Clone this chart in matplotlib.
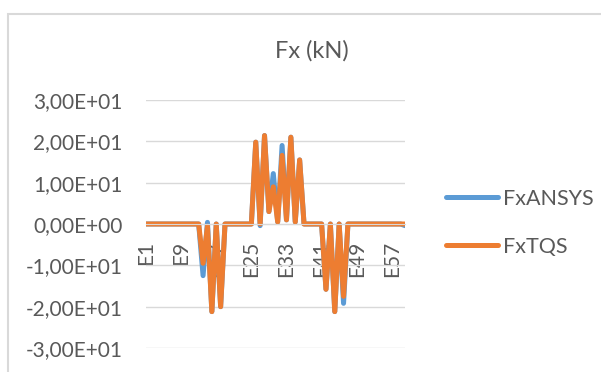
import numpy as np
import matplotlib
matplotlib.use('Agg')
import matplotlib.pyplot as plt
from matplotlib.patches import Rectangle

plt.rcParams['font.family'] = ['Lato', 'DejaVu Sans']

# Element names E1..E60 and the two force series (kN)
elements = ["E" + str(i) for i in range(1, 61)]

fx_ansys = [0, 0, 0, 0, 0, 0, 0, 0, 0, 0,
            0, 0, 0, -12.5, 0.4, -21.2, 0, -20.0, 0, 0,
            0, 0, 0, 0, 0, 19.8, -0.4, 21.4, 3.0, 12.2,
            0.5, 19.0, 1.0, 21.0, 0.5, 15.5, 0, 0, 0, 0,
            0, -15.8, 0, -21.2, 0, -19.2, 0, 0, 0, 0,
            0, 0, 0, 0, 0, 0, 0, 0, 0, -0.4]

fx_tqs = [0, 0, 0, 0, 0, 0, 0, 0, 0, 0,
          0, 0, 0, -9.5, -0.5, -21.2, 0, -20.0, 0, 0,
          0, 0, 0, 0, 0, 19.8, 0, 21.4, 3.0, 9.0,
          0.5, 16.6, 1.0, 21.0, 0.5, 15.5, 0, 0, 0, 0,
          0, -15.8, 0, -21.2, 0, -17.5, 0, 0, 0, 0,
          0, 0, 0, 0, 0, 0, 0, 0, 0, 0]

y_ticks = [30, 20, 10, 0, -10, -20, -30]
y_labels = ["3,00E+01", "2,00E+01", "1,00E+01", "0,00E+00",
            "-1,00E+01", "-2,00E+01", "-3,00E+01"]

W, H = 601, 372
fig = plt.figure(figsize=(W / 100, H / 100), dpi=100)
ax = fig.add_axes([146 / W, 1 - 348 / H, (405 - 146) / W, (348 - 100) / H])

# chart frame (cut off on the right and bottom like the screenshot)
fig.patches.append(Rectangle((7.5 / W, -0.1), 1.2, 1 - 13.5 / H + 0.1,
                             transform=fig.transFigure, fill=False,
                             edgecolor='#d9d9d9', linewidth=1.5))

x = np.arange(len(elements))
ax.plot(x, fx_ansys, color='#5B9BD5', linewidth=3.6, label='FxANSYS',
        solid_joinstyle='round', solid_capstyle='round')
ax.plot(x, fx_tqs, color='#ED7D31', linewidth=3.6, label='FxTQS',
        solid_joinstyle='round', solid_capstyle='round')

ax.set_xlim(0, len(elements) - 1)
ax.set_ylim(-30, 30)
ax.set_yticks(y_ticks)
ax.set_yticklabels(y_labels)
ax.grid(axis='y', color='#d9d9d9', linewidth=1.0)
ax.set_axisbelow(True)

# category axis sits on zero
for s in ['top', 'right', 'left']:
    ax.spines[s].set_visible(False)
ax.spines['bottom'].set_position(('data', 0))
ax.spines['bottom'].set_color('#d9d9d9')
ax.set_xticks(x[::8])
ax.set_xticklabels(elements[::8], rotation=90)

ax.tick_params(axis='y', length=0, pad=17, labelsize=15, labelcolor='#595959')
ax.tick_params(axis='x', length=0, pad=12, labelsize=15, labelcolor='#595959')

# title is centred on the whole chart frame, not on the plot area
fig.text(312 / W, 1 - 51 / H, "Fx (kN)", fontsize=17, color='#595959',
         ha='center', va='center')

ax.legend(loc='upper left', bbox_to_anchor=(446 / W, 1 - 189 / H),
          bbox_transform=fig.transFigure, frameon=False, fontsize=15.5,
          labelcolor='#595959', handlelength=2.4, handletextpad=0.25,
          labelspacing=1.3, borderpad=0, borderaxespad=0)

plt.savefig("out.png", dpi=100)
